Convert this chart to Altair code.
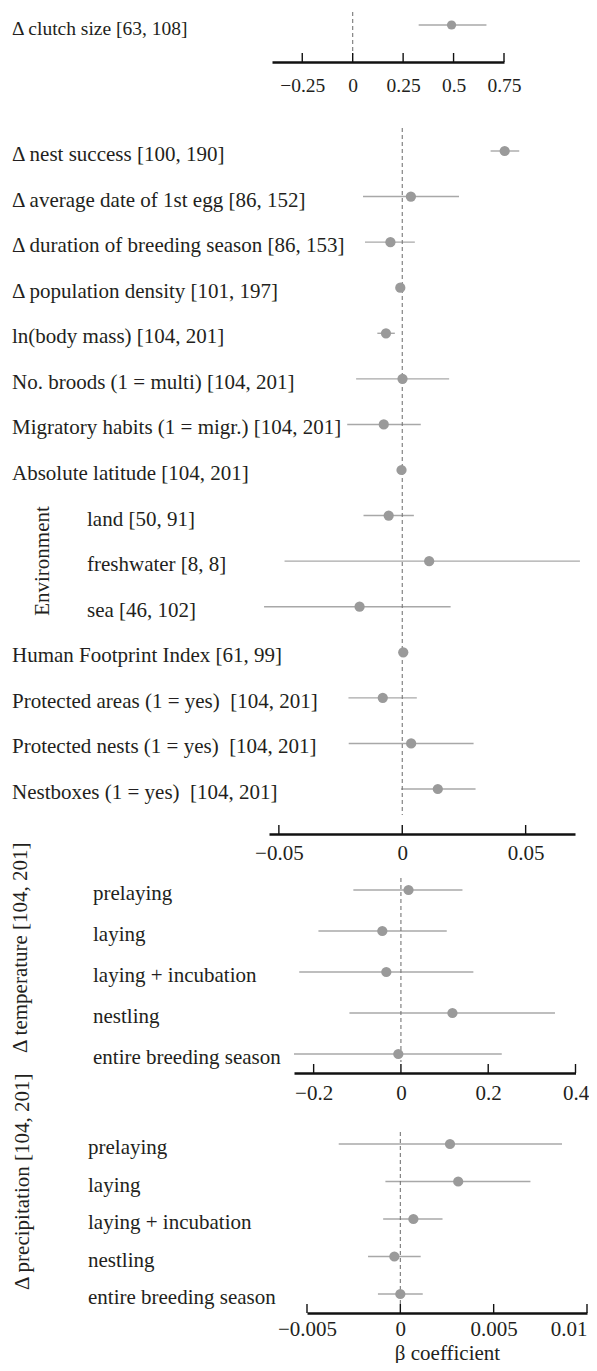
import altair as alt
import pandas as pd

FONT = "Liberation Serif"
TXT = "#231f20"
PT = "#9a9a9a"
CI = "#a8a8a8"
NB = "\u00a0"

# ---------------- data ----------------
p1_labels = ["Δ clutch size [63, 108]"]
p1_est = [0.49]
p1_lo = [0.327]
p1_hi = [0.663]
p1_ticks = [-0.25, 0, 0.25, 0.5, 0.75]

p2_labels = [
    "Δ nest success [100, 190]",
    "Δ average date of 1st egg [86, 152]",
    "Δ duration of breeding season [86, 153]",
    "Δ population density [101, 197]",
    "ln(body mass) [104, 201]",
    "No. broods (1 = multi) [104, 201]",
    "Migratory habits (1 = migr.) [104, 201]",
    "Absolute latitude [104, 201]",
    "land [50, 91]",
    "freshwater [8, 8]",
    "sea [46, 102]",
    "Human Footprint Index [61, 99]",
    "Protected areas (1 = yes) " + NB + "[104, 201]",
    "Protected nests (1 = yes) " + NB + "[104, 201]",
    "Nestboxes (1 = yes) " + NB + "[104, 201]",
]
p2_env = ["land [50, 91]", "freshwater [8, 8]", "sea [46, 102]"]
p2_est = [0.0415, 0.0035, -0.0048, -0.0008, -0.0066, 0.0001, -0.0075, -0.0003,
          -0.0055, 0.0109, -0.0173, 0.0004, -0.0079, 0.0036, 0.0144]
p2_lo = [0.0358, -0.0159, -0.0151, -0.0012, -0.0101, -0.0187, -0.0223, -0.0006,
         -0.0157, -0.0477, -0.0560, -0.0002, -0.0218, -0.0217, -0.0005]
p2_hi = [0.0474, 0.0230, 0.0051, -0.0004, -0.0030, 0.0190, 0.0075, 0.0000,
         0.0047, 0.0720, 0.0196, 0.0010, 0.0059, 0.0289, 0.0297]
p2_ticks = [-0.05, 0, 0.05]

p3_labels = ["prelaying", "laying", "laying + incubation", "nestling", "entire breeding season"]
p3_est = [0.0174, -0.0427, -0.0335, 0.118, -0.006]
p3_lo = [-0.109, -0.189, -0.233, -0.118, -0.245]
p3_hi = [0.141, 0.105, 0.166, 0.353, 0.231]
p3_ticks = [-0.2, 0, 0.2, 0.4]
p3_title = "Δ temperature [104, 201]"

p4_labels = ["prelaying", "laying", "laying + incubation", "nestling", "entire breeding season"]
p4_est = [0.00266, 0.0031, 0.0007, -0.00032, 0.0]
p4_lo = [-0.0033, -0.0008, -0.00092, -0.00173, -0.0012]
p4_hi = [0.00866, 0.00697, 0.00226, 0.00109, 0.0012]
p4_ticks = [-0.005, 0, 0.005, 0.01]
p4_title = "Δ precipitation [104, 201]"

W = 580


def panel(labels, est, lo, hi, ticks, domain, xrange, yrange, height, dash,
          label_x, label_pad, fs=21, psize=105, sub=None, sub_x=None, xtitle=None,
          right_flush=False):
    df = pd.DataFrame({"label": labels, "est": est, "lo": lo, "hi": hi})
    xsc = alt.Scale(domain=domain, range=xrange, nice=False, zero=False)
    ysc = alt.Scale(type="point", domain=labels, range=yrange, padding=0)
    axis_kw = dict(values=ticks, labelExpr="format(datum.value, '~g')", grid=False,
                   ticks=False, tickSize=0, labelFlush=False,
                   labelPadding=label_pad, domainColor="#111", domainWidth=2.6,
                   labelFont=FONT, labelFontSize=fs, labelColor=TXT,
                   titleFont=FONT, titleFontSize=fs, titleFontWeight="normal",
                   titleColor=TXT, titlePadding=3)
    if right_flush:
        axis_kw["labelAlign"] = alt.ExprRef(expr="datum.value == %r ? 'right' : 'center'" % ticks[-1])
    xt = xtitle if xtitle else None
    base = alt.Chart(df)
    ci = base.mark_rule(color=CI, strokeWidth=1.4, clip=True).encode(
        x=alt.X("lo:Q", scale=xsc, axis=alt.Axis(**axis_kw), title=xt),
        x2="hi:Q",
        y=alt.Y("label:N", scale=ysc, axis=None),
    )
    pt = base.mark_circle(size=psize, color=PT, opacity=1).encode(
        x=alt.X("est:Q", title=xt), y=alt.Y("label:N", scale=ysc, axis=None)
    )
    dash_df = pd.DataFrame({"z": [0]})
    zero = alt.Chart(dash_df).mark_rule(color="#777", strokeWidth=1.1, strokeDash=[4, 3]).encode(
        x=alt.X("z:Q", title=xt), y=alt.value(dash[0]), y2=alt.value(dash[1])
    )
    tick_df = pd.DataFrame({"t": ticks})
    tk = alt.Chart(tick_df).mark_rule(color="#111", strokeWidth=1.4).encode(
        x=alt.X("t:Q", title=xt), y=alt.value(height - 9), y2=alt.value(height)
    )
    tstyle = dict(align="left", baseline="middle", font=FONT, fontSize=fs, color=TXT, dy=4)
    if sub:
        main = base.transform_filter(~alt.FieldOneOfPredicate(field="label", oneOf=sub))
        subc = base.transform_filter(alt.FieldOneOfPredicate(field="label", oneOf=sub))
        txt = main.mark_text(**tstyle).encode(x=alt.value(label_x), y=alt.Y("label:N", scale=ysc, axis=None), text="label:N")
        txt2 = subc.mark_text(**tstyle).encode(x=alt.value(sub_x), y=alt.Y("label:N", scale=ysc, axis=None), text="label:N")
        layers = [ci, zero, tk, pt, txt, txt2]
    else:
        txt = base.mark_text(**tstyle).encode(x=alt.value(label_x), y=alt.Y("label:N", scale=ysc, axis=None), text="label:N")
        layers = [ci, zero, tk, pt, txt]
    return layers


def side_title(text, x, y, fs=21, align="left"):
    return alt.Chart(pd.DataFrame({"t": [text]})).mark_text(
        angle=270, align=align, baseline="middle", font=FONT, fontSize=fs, color=TXT
    ).encode(
        x=alt.value(x),
        y=alt.Y("t:N", scale=alt.Scale(type="point", domain=[text], range=[y, y], padding=0), axis=None),
        text="t:N",
    )


# panel 1
l1 = panel(p1_labels, p1_est, p1_lo, p1_hi, p1_ticks, [-0.4, 0.75], [264, 496], [17, 17], 54,
           (4, 47), 4, 14, fs=19.5, psize=85)
c1 = alt.layer(*l1).properties(width=W, height=54)

# panel 2
l2 = panel(p2_labels, p2_est, p2_lo, p2_hi, p2_ticks, [-0.054, 0.07], [261, 567], [89, 727], 772,
           (66, 753), 4, 8.5, sub=p2_env, sub_x=79)
env = side_title("Environment", 34.5, 499, align="center")
c2 = alt.layer(*l2, env).resolve_scale(y="independent").properties(width=W, height=772)

# panel 3
l3 = panel(p3_labels, p3_est, p3_lo, p3_hi, p3_ticks, [-0.245, 0.4], [286, 567.5], [56, 220], 239,
           (44, 228), 85, 9.5)
t3 = side_title(p3_title, 13, 219)
c3 = alt.layer(*l3, t3).resolve_scale(y="independent").properties(width=W, height=239)

# panel 4
l4 = panel(p4_labels, p4_est, p4_lo, p4_hi, p4_ticks, [-0.005, 0.01], [299, 579], [71, 221], 240,
           (59, 234), 80, 5, xtitle="β coefficient", right_flush=True)
t4 = side_title(p4_title, 15, 217)
c4 = alt.layer(*l4, t4).resolve_scale(y="independent").properties(width=W, height=240)

chart = alt.vconcat(c1, c2, c3, c4, spacing=0, bounds="flush").properties(padding=0).configure_view(stroke=None)

chart.save("out.html", embed_options={"renderer": "svg", "actions": False})
